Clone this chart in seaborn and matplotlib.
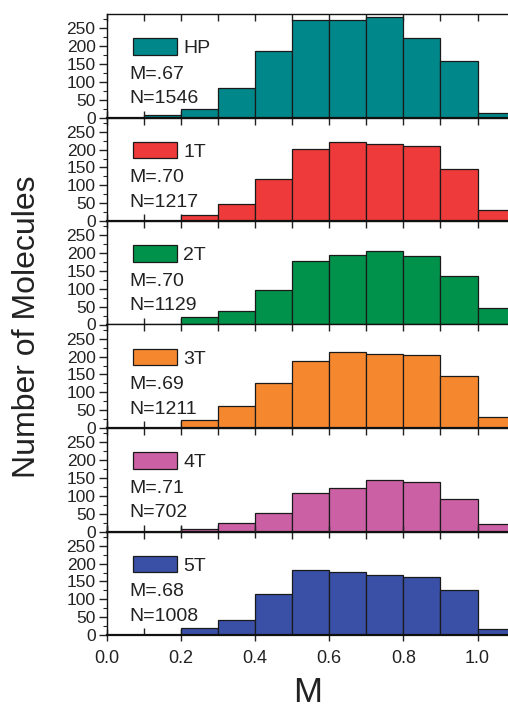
import numpy as np
import matplotlib
matplotlib.use("Agg")
import matplotlib.pyplot as plt
import seaborn as sns
from matplotlib.ticker import MultipleLocator, FixedLocator

sns.set_theme(style="ticks")
plt.rcParams['font.family'] = ['Liberation Sans', 'DejaVu Sans']

bin_edges = [0.0, 0.1, 0.2, 0.3, 0.4, 0.5, 0.6, 0.7, 0.8, 0.9, 1.0, 1.1]
bin_centers = [0.05, 0.15, 0.25, 0.35, 0.45, 0.55, 0.65, 0.75, 0.85, 0.95, 1.05]
x_ticks = [0.0, 0.2, 0.4, 0.6, 0.8, 1.0]
y_ticks = [0, 50, 100, 150, 200, 250]

labels = ["HP", "1T", "2T", "3T", "4T", "5T"]
means = ["M=.67", "M=.70", "M=.70", "M=.69", "M=.71", "M=.68"]
totals = ["N=1546", "N=1217", "N=1129", "N=1211", "N=702", "N=1008"]
colors = ["#00878A", "#EE3A3A", "#00924A", "#F5882F", "#CC60A4", "#3A4FA6"]

hp = [0, 7, 23, 84, 185, 273, 272, 281, 223, 159, 14]
t1 = [0, 0, 17, 48, 119, 201, 220, 216, 209, 146, 32]
t2 = [0, 0, 21, 37, 98, 178, 195, 205, 192, 137, 47]
t3 = [0, 0, 23, 62, 125, 189, 212, 208, 205, 146, 31]
t4 = [0, 0, 8, 25, 52, 108, 122, 144, 138, 90, 22]
t5 = [0, 0, 20, 42, 114, 183, 176, 167, 163, 125, 16]
series = [hp, t1, t2, t3, t4, t5]

W, H = 508, 708
fig = plt.figure(figsize=(W / 100, H / 100), dpi=100)

left = 106.7 / W
width = 445 / W
ph = 103.5 / H
bottom0 = 73 / H

for i, (lab, col, vals) in enumerate(zip(labels, colors, series)):
    b = bottom0 + (5 - i) * ph
    ax = fig.add_axes([left, b, width, ph])
    sns.histplot(x=bin_centers, weights=vals, bins=bin_edges, color=col,
                 alpha=1.0, edgecolor="#1a1a1a", linewidth=0.9, label=lab, ax=ax)
    ax.set_xlim(0, 1.2)
    ax.set_ylim(0, 290)
    ax.set_ylabel("")
    ax.set_xlabel("")
    ax.yaxis.set_major_locator(FixedLocator(y_ticks))
    ax.yaxis.set_minor_locator(MultipleLocator(25))
    ax.xaxis.set_major_locator(FixedLocator(x_ticks))
    ax.xaxis.set_minor_locator(MultipleLocator(0.1))
    ax.tick_params(axis="y", which="major", direction="out", length=6, width=1,
                   labelsize=12.5, pad=2, colors="#222222")
    ax.tick_params(axis="y", which="minor", direction="out", length=3, width=0.8)
    ax.tick_params(axis="x", which="both", top=True, bottom=True, direction="in",
                   length=5, width=1, labelsize=13, colors="#222222")
    if i < 5:
        ax.tick_params(axis="x", which="both", labelbottom=False)
    else:
        ax.tick_params(axis="x", which="major", direction="inout", length=9, pad=6)
        ax.xaxis.set_major_formatter(matplotlib.ticker.FormatStrFormatter("%.1f"))
    for s in ax.spines.values():
        s.set_color("#111111")
        s.set_linewidth(1.0)
    ax.spines["bottom"].set_linewidth(1.6)

    leg = ax.legend(loc="center left", bbox_to_anchor=(0.058, 0.675), frameon=False,
                    fontsize=14, handlelength=2.3, handleheight=0.95,
                    handletextpad=0.3, borderpad=0, borderaxespad=0)
    for t in leg.get_texts():
        t.set_color("#222222")
    ax.text(0.052, 0.42, means[i], transform=ax.transAxes, fontsize=14,
            va="center", ha="left", color="#222222")
    ax.text(0.052, 0.18, totals[i], transform=ax.transAxes, fontsize=14,
            va="center", ha="left", color="#222222")

fig.text(27 / W, 1 - 327 / H, "Number of Molecules", rotation=90, fontsize=23,
         va="center", ha="center", color="#222222")
fig.text(308 / W, 1 - 693 / H, "M", fontsize=25, va="center", ha="center",
         color="#222222")

fig.savefig("out.png", dpi=100)
